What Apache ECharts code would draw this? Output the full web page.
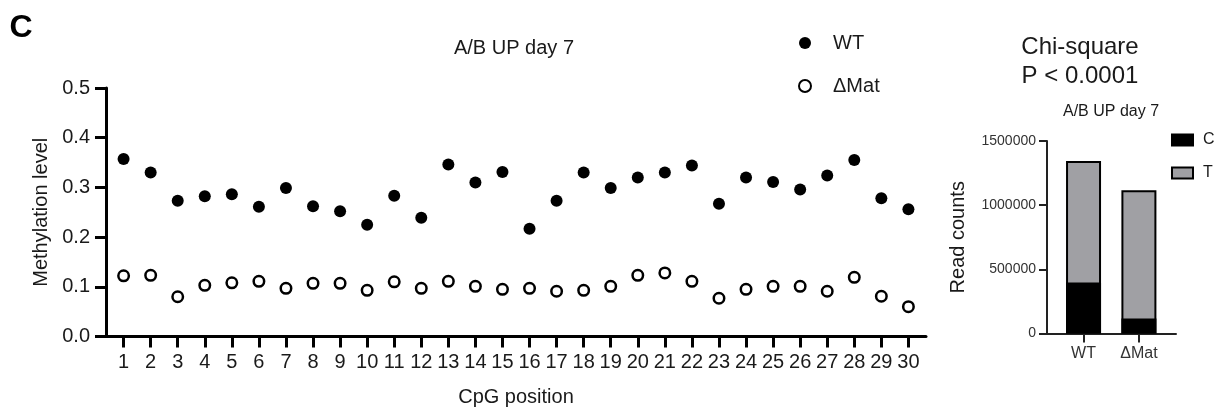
<!DOCTYPE html>
<html lang="en">
<head>
    <meta charset="UTF-8">
    <title>A/B UP day 7</title>
    <script src="https://cdn.jsdelivr.net/npm/echarts@6/dist/echarts.min.js"></script>
    <style>
        html, body { margin: 0; padding: 0; background: #fff; }
        #main { width: 1221px; height: 412px; }
    </style>
</head>
<body>
<div id="main"></div>
<script type="text/javascript">
    // CpG positions 1..30
    var positions = [1, 2, 3, 4, 5, 6, 7, 8, 9, 10, 11, 12, 13, 14, 15, 16, 17, 18, 19, 20,
        21, 22, 23, 24, 25, 26, 27, 28, 29, 30];
    // methylation level per position
    var wtLevel = [0.357, 0.330, 0.273, 0.282, 0.286, 0.261, 0.299, 0.262, 0.252, 0.225,
        0.283, 0.239, 0.346, 0.310, 0.331, 0.217, 0.273, 0.330, 0.299, 0.320,
        0.330, 0.344, 0.267, 0.320, 0.311, 0.296, 0.324, 0.355, 0.278, 0.256];
    var matLevel = [0.122, 0.123, 0.080, 0.103, 0.108, 0.111, 0.097, 0.107, 0.107, 0.093,
        0.110, 0.097, 0.111, 0.101, 0.095, 0.097, 0.091, 0.093, 0.101, 0.123,
        0.128, 0.111, 0.077, 0.095, 0.101, 0.101, 0.091, 0.119, 0.081, 0.060];

    // read counts (C on the bottom, T stacked above)
    var groups = ['WT', 'ΔMat'];
    var groupPos = [1, 2];
    var countC = [397000, 117000];
    var countT = [948000, 1000000];

    var font = "'Liberation Sans', Arial, sans-serif";
    var ink = '#1a1a1a';

    function pairs(xs, ys) {
        return xs.map(function (x, i) { return [x, ys[i]]; });
    }

    // the T bar is drawn from 0 to C+T, the C bar is laid over its lower part
    var totals = countC.map(function (c, i) { return c + countT[i]; });

    var myChart = echarts.init(document.getElementById('main'), null, {renderer: 'canvas'});

    var option = {
        backgroundColor: '#fff',
        animation: false,
        textStyle: {fontFamily: font},
        graphic: [
            {type: 'text', x: 21, y: 28, style: {text: 'C', font: "bold 32px " + font, fill: '#000', align: 'center', verticalAlign: 'middle'}},
            {type: 'text', x: 514, y: 48, style: {text: 'A/B UP day 7', font: "20px " + font, fill: ink, align: 'center', verticalAlign: 'middle'}},
            {type: 'text', x: 1080, y: 62, style: {text: 'Chi-square\nP < 0.0001', font: "24px " + font, lineHeight: 29, fill: ink, align: 'center', verticalAlign: 'middle'}},
            {type: 'text', x: 1111, y: 112, style: {text: 'A/B UP day 7', font: "16px " + font, fill: ink, align: 'center', verticalAlign: 'middle'}}
        ],
        legend: [
            {
                data: ['WT', 'ΔMat'],
                orient: 'vertical',
                left: 793, top: 28,
                itemWidth: 46, itemHeight: 12, itemGap: 23,
                textStyle: {fontSize: 20, color: ink, fontFamily: font}
            },
            {
                data: ['C', 'T'],
                orient: 'vertical',
                left: 1166, top: 127,
                itemWidth: 21, itemHeight: 11, itemGap: 17,
                icon: 'rect',
                textStyle: {fontSize: 16, color: ink, fontFamily: font, padding: [0, 0, 0, 5]}
            }
        ],
        grid: [
            {left: 106, top: 88, width: 820, height: 248.5, outerBoundsMode: 'none', containLabel: false},
            {left: 1047, top: 141, width: 129, height: 192.5, outerBoundsMode: 'none', containLabel: false}
        ],
        xAxis: [
            {
                gridIndex: 0, type: 'value', min: 0.35, max: 30.65,
                name: 'CpG position', nameLocation: 'middle', nameGap: 51,
                nameTextStyle: {fontSize: 20, color: ink, fontFamily: font},
                axisLine: {onZero: false, lineStyle: {color: '#000', width: 3}},
                axisTick: {customValues: positions, length: 11, lineStyle: {color: '#000', width: 3}},
                axisLabel: {customValues: positions, fontSize: 20, color: ink, margin: 16, fontFamily: font},
                splitLine: {show: false}
            },
            {
                gridIndex: 1, type: 'value', min: 0.34, max: 2.67,
                axisLine: {onZero: false, lineStyle: {color: '#222', width: 2}},
                axisTick: {customValues: groupPos, length: 9, lineStyle: {color: '#222', width: 2}},
                axisLabel: {
                    customValues: groupPos, fontSize: 16, color: '#333', margin: 12, fontFamily: font,
                    formatter: function (v) { return groups[Math.round(v) - 1]; }
                },
                splitLine: {show: false}
            }
        ],
        yAxis: [
            {
                gridIndex: 0, type: 'value', min: 0, max: 0.5, interval: 0.1,
                name: 'Methylation level', nameLocation: 'middle', nameGap: 44,
                nameTextStyle: {fontSize: 20, color: ink, fontFamily: font},
                axisLine: {show: true, onZero: false, lineStyle: {color: '#000', width: 3}},
                axisTick: {show: true, length: 11, lineStyle: {color: '#000', width: 3}},
                axisLabel: {
                    fontSize: 20, color: ink, margin: 16, fontFamily: font,
                    formatter: function (v) { return v.toFixed(1); }
                },
                splitLine: {show: false}
            },
            {
                gridIndex: 1, type: 'value', min: 0, max: 1500000, interval: 500000,
                name: 'Read counts', nameLocation: 'middle', nameGap: 79,
                nameTextStyle: {fontSize: 20, color: ink, fontFamily: font},
                axisLine: {show: true, onZero: false, lineStyle: {color: '#222', width: 2}},
                axisTick: {show: true, length: 8, lineStyle: {color: '#222', width: 2}},
                axisLabel: {
                    fontSize: 14, color: '#333', margin: 11, fontFamily: font,
                    formatter: function (v) { return String(v); }
                },
                splitLine: {show: false}
            }
        ],
        series: [
            {
                name: 'WT', type: 'scatter', xAxisIndex: 0, yAxisIndex: 0,
                symbol: 'circle', symbolSize: 12,
                itemStyle: {color: '#000', opacity: 1},
                data: pairs(positions, wtLevel)
            },
            {
                name: 'ΔMat', type: 'scatter', xAxisIndex: 0, yAxisIndex: 0,
                symbol: 'circle', symbolSize: 10.5,
                itemStyle: {color: '#fff', borderColor: '#000', borderWidth: 2.5, opacity: 1},
                data: pairs(positions, matLevel)
            },
            {
                name: 'T', type: 'bar', xAxisIndex: 1, yAxisIndex: 1,
                barWidth: 35, barGap: '-100%',
                itemStyle: {color: '#a0a0a4', borderColor: '#000', borderWidth: 2},
                data: pairs(groupPos, totals)
            },
            {
                name: 'C', type: 'bar', xAxisIndex: 1, yAxisIndex: 1,
                barWidth: 35, barGap: '-100%',
                itemStyle: {color: '#000', borderColor: '#000', borderWidth: 2},
                data: pairs(groupPos, countC)
            }
        ]
    };

    myChart.setOption(option);
</script>
</body>
</html>
